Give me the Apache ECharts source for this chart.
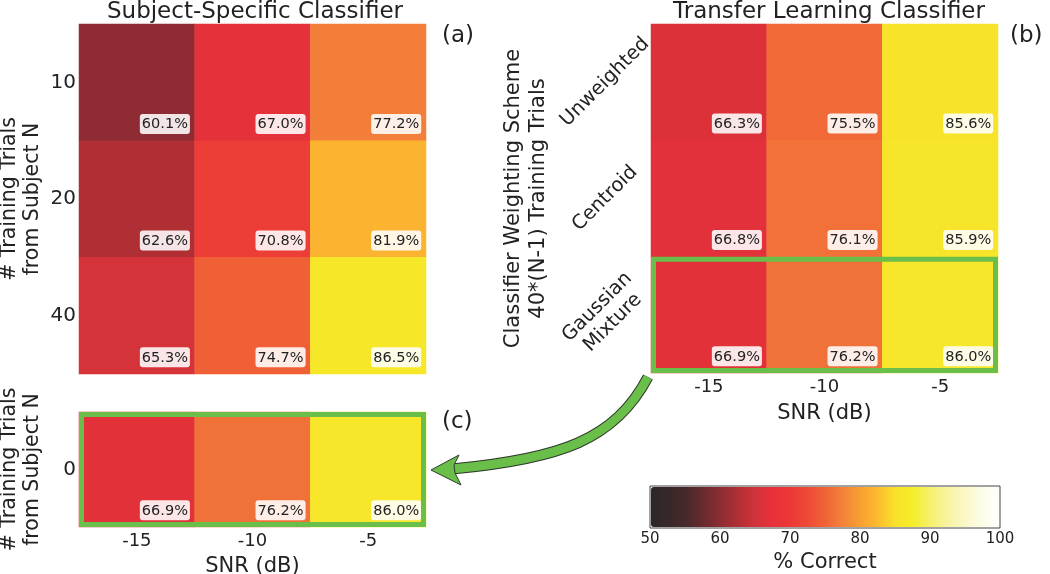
<!DOCTYPE html>
<html><head><meta charset="utf-8">
<script src="https://cdn.jsdelivr.net/npm/echarts@6/dist/echarts.min.js"></script>
<style>html,body{margin:0;padding:0;background:#fff;}#c{width:1050px;height:574px;}</style>
</head><body><div id="c"></div>
<script>
// ---- data ----
const snrLabels = ['-15', '-10', '-5'];
const subjectTrials = ['10', '20', '40'];
const subjectAcc = [
  [60.1, 67.0, 77.2],
  [62.6, 70.8, 81.9],
  [65.3, 74.7, 86.5]
];
const schemeLabels = ['Unweighted', 'Centroid', 'Gaussian\nMixture'];
const transferAcc = [
  [66.3, 75.5, 85.6],
  [66.8, 76.1, 85.9],
  [66.9, 76.2, 86.0]
];
const zeroTrials = ['0'];
const zeroAcc = [[66.9, 76.2, 86.0]];
const scaleMin = 50, scaleMax = 100, scaleStep = 10;
const colorScale = ['#2b2728', '#372829', '#47292b', '#682b2f', '#8e2c33', '#af2f35', '#d2333a',
  '#e8303a', '#eb3837', '#ee4a37', '#f06336', '#f2823a', '#f89e33', '#fdba2e', '#f8e02a',
  '#f5ee28', '#f5f06a', '#f7f39e', '#faf7c6', '#fdfce6', '#ffffff'];
// highlighted blocks: [firstColumn, row, lastColumn]
const highlightB = [[0, 2, 2]];
const highlightC = [[0, 0, 2]];

// ---- helpers ----
const FONT = 'DejaVu Sans';
const TXT = '#222';
function toCells(rows) {
  const out = [];
  rows.forEach((r, yi) => r.forEach((v, xi) => out.push([xi, yi, v])));
  return out;
}
const cellLabel = {
  show: true,
  position: 'insideBottomRight',
  distance: 5,
  offset: [0, -2],
  formatter: p => p.value[2].toFixed(1) + '%',
  fontFamily: FONT, fontSize: 14.5, color: '#222',
  backgroundColor: 'rgba(255,255,255,0.88)',
  borderRadius: 3, padding: [2, 2, 1, 2], lineHeight: 17
};
function heat(idx, rows) {
  return { type: 'heatmap', xAxisIndex: idx, yAxisIndex: idx, data: toCells(rows),
    label: cellLabel, itemStyle: { borderWidth: 0 }, emphasis: { disabled: true } };
}
function frame(idx, data) {
  return { type: 'custom', xAxisIndex: idx, yAxisIndex: idx, data: data, z: 5, silent: true,
    renderItem: function (params, api) {
      const p0 = api.coord([api.value(0), api.value(1)]);
      const p1 = api.coord([api.value(2), api.value(1)]);
      const s = api.size([1, 1]);
      const lw = 5;
      return { type: 'rect',
        shape: { x: p0[0] - s[0] / 2 + lw / 2, y: p0[1] - s[1] / 2 + lw / 2,
                 width: p1[0] - p0[0] + s[0] - lw, height: s[1] - lw },
        style: { fill: 'none', stroke: '#6abf4b', lineWidth: lw } };
    } };
}
const noLine = { show: false };
const yName = '# Training Trials\nfrom Subject N';
const nameStyle = { fontFamily: FONT, fontSize: 21, color: TXT, lineHeight: 25 };
const leftNameStyle = { fontFamily: FONT, fontSize: 20.5, color: TXT, lineHeight: 23 };
const gridBase = { outerBoundsMode: 'none', containLabel: false };

const chart = echarts.init(document.getElementById('c'), null, { renderer: 'canvas' });
chart.setOption({
  animation: false,
  backgroundColor: '#fff',
  textStyle: { fontFamily: FONT },
  grid: [
    Object.assign({ left: 79, top: 24, width: 347, height: 350 }, gridBase),
    Object.assign({ left: 651, top: 24, width: 347, height: 349 }, gridBase),
    Object.assign({ left: 79, top: 412, width: 347, height: 115 }, gridBase),
    Object.assign({ left: 650, top: 486, width: 350, height: 42, show: true, borderColor: '#444', borderWidth: 1, backgroundColor: 'transparent' }, gridBase)
  ],
  xAxis: [
    { gridIndex: 0, type: 'category', data: snrLabels, axisLabel: { show: false }, axisLine: noLine, axisTick: noLine },
    { gridIndex: 1, type: 'category', data: snrLabels, axisLine: noLine, axisTick: noLine,
      axisLabel: { fontFamily: FONT, fontSize: 18, color: TXT, margin: 5 },
      name: 'SNR (dB)', nameLocation: 'middle', nameGap: 26, nameTextStyle: nameStyle },
    { gridIndex: 2, type: 'category', data: snrLabels, axisLine: noLine, axisTick: noLine,
      axisLabel: { fontFamily: FONT, fontSize: 18, color: TXT, margin: 5 },
      name: 'SNR (dB)', nameLocation: 'middle', nameGap: 27, nameTextStyle: nameStyle },
    { gridIndex: 3, type: 'value', min: scaleMin, max: scaleMax, interval: scaleStep,
      axisLine: noLine, axisTick: noLine, splitLine: noLine,
      axisLabel: { fontFamily: FONT, fontSize: 15, color: TXT, margin: 4 },
      name: '% Correct', nameLocation: 'middle', nameGap: 22, nameTextStyle: nameStyle }
  ],
  yAxis: [
    { gridIndex: 0, type: 'category', data: subjectTrials, inverse: true, axisLine: noLine, axisTick: noLine,
      axisLabel: { fontFamily: FONT, fontSize: 20, color: TXT, margin: 3 },
      name: yName, nameLocation: 'middle', nameRotate: 90, nameGap: 35, nameTextStyle: leftNameStyle },
    { gridIndex: 1, type: 'category', data: schemeLabels, inverse: true, axisLine: noLine, axisTick: noLine,
      axisLabel: { fontFamily: FONT, fontSize: 19.5, color: TXT, rotate: 45, align: 'center', verticalAlign: 'middle',
        margin: 46, lineHeight: 22, interval: 0 },
      name: 'Classifier Weighting Scheme\n40*(N-1) Training Trials', nameLocation: 'middle', nameRotate: 90,
      nameGap: 100, nameTextStyle: nameStyle },
    { gridIndex: 2, type: 'category', data: zeroTrials, axisLine: noLine, axisTick: noLine,
      axisLabel: { fontFamily: FONT, fontSize: 20, color: TXT, margin: 3 },
      name: yName, nameLocation: 'middle', nameRotate: 90, nameGap: 35, nameTextStyle: leftNameStyle },
    { gridIndex: 3, type: 'value', show: false }
  ],
  visualMap: {
    type: 'continuous', min: scaleMin, max: scaleMax, seriesIndex: [0, 1, 2], dimension: 2,
    orient: 'horizontal', left: 651, top: 487, itemWidth: 40, itemHeight: 348,
    calculable: false, padding: 0, inRange: { color: colorScale }, hoverLink: false
  },
  series: [
    heat(0, subjectAcc),
    heat(1, transferAcc),
    heat(2, zeroAcc),
    frame(1, highlightB),
    frame(2, highlightC)
  ],
  graphic: [
    { type: 'text', x: 255, y: 12, style: { text: 'Subject-Specific Classifier', align: 'center', verticalAlign: 'middle', fontFamily: FONT, fontSize: 23, fill: TXT } },
    { type: 'text', x: 829, y: 12, style: { text: 'Transfer Learning Classifier', align: 'center', verticalAlign: 'middle', fontFamily: FONT, fontSize: 23, fill: TXT } },
    { type: 'text', x: 442, y: 36, style: { text: '(a)', align: 'left', verticalAlign: 'middle', fontFamily: FONT, fontSize: 23, fill: TXT } },
    { type: 'text', x: 1010, y: 36, style: { text: '(b)', align: 'left', verticalAlign: 'middle', fontFamily: FONT, fontSize: 23, fill: TXT } },
    { type: 'text', x: 442, y: 422, style: { text: '(c)', align: 'left', verticalAlign: 'middle', fontFamily: FONT, fontSize: 23, fill: TXT } },
    { type: 'bezierCurve', z: 20, shape: { x1: 648, y1: 377, cpx1: 615, cpy1: 440, cpx2: 560, cpy2: 459, x2: 452, y2: 469 },
      style: { stroke: '#2f3a2a', lineWidth: 11, fill: null } },
    { type: 'bezierCurve', z: 21, shape: { x1: 648, y1: 377, cpx1: 615, cpy1: 440, cpx2: 560, cpy2: 459, x2: 452, y2: 469 },
      style: { stroke: '#6abf4b', lineWidth: 9, fill: null } },
    { type: 'polygon', z: 22, shape: { points: [[431, 470], [459, 455], [454, 465], [455, 473], [461, 485]] },
      style: { fill: '#6abf4b', stroke: '#2f3a2a', lineWidth: 1 } }
  ]
});
</script></body></html>
